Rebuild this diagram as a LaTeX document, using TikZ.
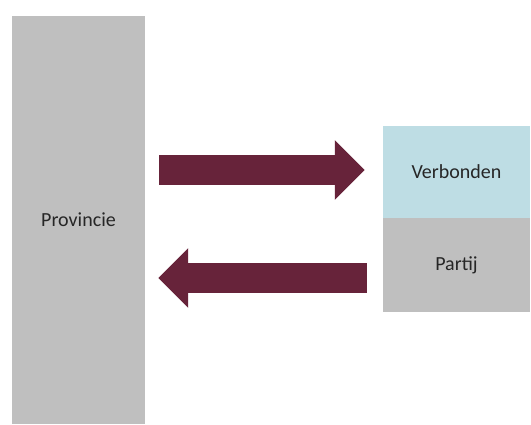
\documentclass[tikz,border=0pt]{standalone}
\usepackage{fontspec}
\setmainfont{Carlito}
\usetikzlibrary{arrows.meta,positioning}

\definecolor{vakgrijs}{RGB}{191,191,191}
\definecolor{vakblauw}{RGB}{190,221,228}
\definecolor{pijlrood}{RGB}{103,35,58}

\tikzset{
    vak/.style={fill=#1, draw=none, inner sep=0pt, text=black!85,
        font=\fontsize{20}{24}\selectfont},
    pijl/.style={line width=30pt, pijlrood,
        -{Triangle[length=30pt,width=58pt]}}
}

\begin{document}
\begin{tikzpicture}[x=1pt,y=-1pt]
            \useasboundingbox (0,0) rectangle (531,424);

            \node[vak=vakgrijs, minimum width=133pt, minimum height=408pt] (provincie) at (78.5,220) {Provincie};
            \node[vak=vakblauw, minimum width=147pt, minimum height=92pt] (verbonden) at (456.5,172) {Verbonden};
            \node[vak=vakgrijs, minimum width=147pt, minimum height=94pt, below=0pt of verbonden] (partij) {Partij};

            % heen en terug
            \coordinate (heen0) at ([xshift=14pt]provincie.east |- 0,170);
            \coordinate (heen1) at ([xshift=-18pt]verbonden.west |- 0,170);
            \coordinate (terug0) at ([xshift=-16pt]partij.west |- 0,278);
            \coordinate (terug1) at ([xshift=13pt]provincie.east |- 0,278);

            \draw[pijl] (heen0) -- (heen1);
            \draw[pijl] (terug0) -- (terug1);
\end{tikzpicture}
\end{document}
